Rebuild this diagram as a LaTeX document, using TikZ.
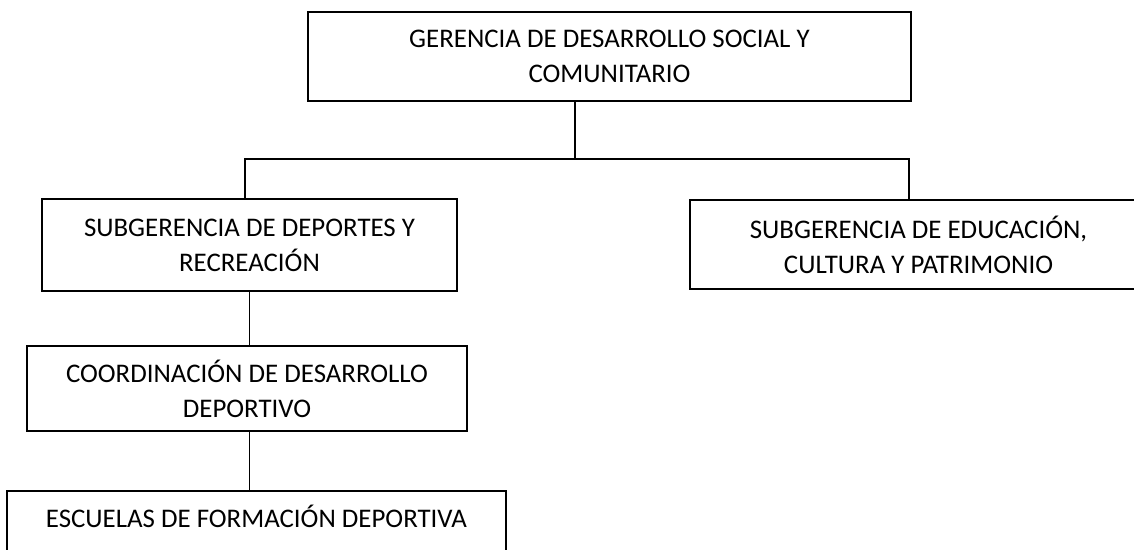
\documentclass[tikz,border=0pt]{standalone}
\usepackage{fontspec}
\setmainfont{Carlito}
\usepackage{tikz}
\usetikzlibrary{calc}

\begin{document}
\begin{tikzpicture}[x=0.4pt,y=-0.4pt,
  box/.style={draw, line width=0.75pt, inner sep=0pt,
    font=\fontsize{10.75pt}{14pt}\selectfont},
  orgbox/.style={box, align=center},
  link/.style={line width=0.75pt}]
\useasboundingbox (0,0) rectangle (1134,550);
\clip (0,0) rectangle (1134,550);
% recuadros
\node[orgbox, minimum width=241.2pt, minimum height=35.6pt] (ger) at (609.5,56.5) {GERENCIA DE DESARROLLO SOCIAL Y\\COMUNITARIO};
\node[orgbox, minimum width=166pt, minimum height=36.8pt] (subdep) at (249.5,245) {SUBGERENCIA DE DEPORTES Y\\RECREACIÓN};
\node[orgbox, minimum width=182.8pt, minimum height=35.6pt] (subedu) at (918.5,244.5) {SUBGERENCIA DE EDUCACIÓN,\\CULTURA Y PATRIMONIO};
\node[orgbox, minimum width=176pt, minimum height=34pt] (coord) at (247,388.5) {COORDINACIÓN DE DESARROLLO\\DEPORTIVO};
\node[box, anchor=north, minimum width=199.6pt, text height=14.8pt, text depth=21.2pt] (esc) at (256.5,490) {ESCUELAS DE FORMACIÓN DEPORTIVA};
% lineas
\coordinate (bus) at (575,159);
\coordinate (busL) at (245,159);
\coordinate (busR) at (909,159);
\draw[link] (ger.south -| bus) -- (bus);
\draw[link] (busL |- subdep.north) -- (busL) -- (busR) -- (busR |- subedu.north);
\draw[link] (subdep.south) -- (subdep.south |- coord.north);
\draw[link] (subdep.south |- coord.south) -- (subdep.south |- esc.north);
\end{tikzpicture}
\end{document}
